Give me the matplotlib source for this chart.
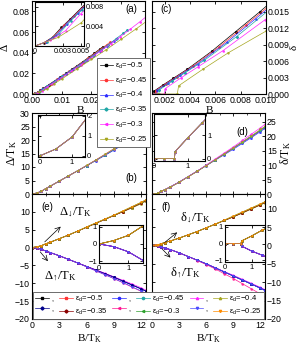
import matplotlib
matplotlib.use("Agg")
import matplotlib.pyplot as plt
from matplotlib.lines import Line2D

plt.rcParams['font.family'] = ['Liberation Sans', 'DejaVu Sans']
plt.rcParams['mathtext.fontset'] = 'stix'
plt.rcParams['xtick.direction'] = 'in'
plt.rcParams['ytick.direction'] = 'in'
plt.rcParams['axes.linewidth'] = 0.8

# ---------------- data ----------------
eps_d = [-0.5, -0.45, -0.4, -0.35, -0.3, -0.25]
t_k = [0.0019, 0.0021, 0.0023, 0.00256, 0.0033, 0.005]

# B/T_K grid for gap quantities (Delta)
bt = [0, 0.5, 1, 1.5, 2, 3, 4, 5, 6, 7, 8, 9, 10, 11, 12, 12.5]
gap_tk = [
    [0, 0.35, 0.95, 2.0, 2.9, 4.8, 6.7, 8.6, 10.5, 12.5, 14.5, 16.5, 18.6, 20.7, 22.9, 24.0],
    [0, 0.35, 0.95, 2.0, 2.9, 4.8, 6.7, 8.6, 10.5, 12.5, 14.5, 16.5, 18.6, 20.7, 22.8, 23.9],
    [0, 0.35, 0.95, 2.0, 2.9, 4.8, 6.7, 8.6, 10.5, 12.4, 14.3, 16.3, 18.3, 20.3, 22.4, 23.4],
    [0, 0.35, 0.95, 2.0, 2.9, 4.8, 6.7, 8.6, 10.5, 12.5, 14.5, 16.5, 18.6, 20.8, 23.0, 24.1],
    [0, 0.35, 0.95, 2.0, 2.9, 4.8, 6.7, 8.6, 10.6, 12.6, 14.7, 16.8, 19.0, 21.2, 23.5, 24.6],
    [0, 0.35, 0.95, 2.0, 2.9, 4.8, 6.7, 8.6, 10.6, 12.6, 14.7, 16.8, 19.0, 21.2, 23.4, 24.5],
]
gap_dn_tk = [
    [0, 0.2, 0.5, 1.05, 1.5, 2.5, 3.5, 4.6, 5.7, 6.8, 7.9, 9.0, 10.1, 11.2, 12.4, 13.1],
    [0, 0.2, 0.5, 1.05, 1.5, 2.5, 3.5, 4.6, 5.7, 6.8, 7.9, 9.0, 10.1, 11.2, 12.4, 13.1],
    [0, 0.2, 0.5, 1.05, 1.5, 2.5, 3.5, 4.6, 5.7, 6.8, 7.9, 9.0, 10.1, 11.2, 12.3, 13.0],
    [0, 0.2, 0.5, 1.05, 1.5, 2.5, 3.5, 4.6, 5.7, 6.8, 7.9, 9.0, 10.1, 11.3, 12.5, 13.2],
    [0, 0.2, 0.5, 1.05, 1.5, 2.5, 3.5, 4.6, 5.8, 6.9, 8.0, 9.1, 10.3, 11.5, 12.7, 13.4],
    [0, 0.2, 0.5, 1.05, 1.5, 2.5, 3.5, 4.6, 5.8, 6.9, 8.0, 9.1, 10.3, 11.5, 12.7, 13.4],
]
gap_up_tk = [
    [0, -0.15, -0.45, -0.95, -1.4, -2.3, -3.3, -4.3, -5.3, -6.3, -7.3, -8.3, -9.4, -10.5, -11.6, -12.2],
    [0, -0.15, -0.45, -0.95, -1.4, -2.3, -3.3, -4.3, -5.3, -6.3, -7.3, -8.3, -9.4, -10.5, -11.6, -12.2],
    [0, -0.15, -0.45, -0.95, -1.4, -2.3, -3.3, -4.3, -5.3, -6.2, -7.2, -8.2, -9.2, -10.2, -11.3, -11.9],
    [0, -0.15, -0.45, -0.95, -1.4, -2.3, -3.3, -4.3, -5.3, -6.3, -7.3, -8.3, -9.4, -10.5, -11.6, -12.2],
    [0, -0.15, -0.45, -0.95, -1.4, -2.3, -3.3, -4.3, -5.4, -6.5, -7.6, -8.7, -9.9, -11.1, -12.3, -12.9],
    [0, -0.15, -0.45, -0.95, -1.4, -2.3, -3.3, -4.3, -5.4, -6.5, -7.6, -8.7, -9.8, -11.0, -12.2, -12.8],
]

# B/T_K grid for splitting quantities (delta)
btd = [0, 0.3, 0.6, 0.62, 1.0, 1.4, 2, 3, 4, 5, 6, 7, 8, 9, 10, 11, 12, 12.5]
spl_tk = [
    [0, 0, 0, 0.3, 0.9, 1.5, 2.4, 4.1, 6.0, 7.9, 9.9, 11.9, 13.9, 15.9, 17.9, 19.9, 22.0, 23.2],
    [0, 0, 0, 0.3, 0.9, 1.5, 2.4, 4.1, 6.0, 7.9, 9.9, 11.9, 13.9, 15.9, 17.9, 19.9, 22.0, 23.2],
    [0, 0, 0, 0.3, 0.9, 1.5, 2.4, 4.1, 6.0, 7.9, 9.8, 11.7, 13.6, 15.5, 17.5, 19.5, 21.6, 22.7],
    [0, 0, 0, 0.3, 0.9, 1.5, 2.4, 4.1, 6.0, 7.9, 9.9, 11.9, 13.9, 15.9, 17.9, 20.0, 22.1, 23.2],
    [0, 0, 0, 0.3, 0.9, 1.5, 2.4, 4.1, 6.0, 7.9, 10.0, 12.1, 14.2, 16.3, 18.5, 20.7, 22.9, 24.1],
    [0, 0, 0, 0.3, 0.9, 1.5, 2.3, 4.0, 5.9, 7.8, 9.8, 11.8, 13.8, 15.9, 18.0, 20.1, 22.3, 23.4],
]
spl_dn_tk = [
    [0, 0, 0, 0.15, 0.45, 0.8, 1.2, 2.0, 2.9, 3.8, 4.8, 5.8, 6.8, 7.8, 8.9, 10.0, 11.1, 11.7],
    [0, 0, 0, 0.15, 0.45, 0.8, 1.2, 2.0, 2.9, 3.8, 4.8, 5.8, 6.8, 7.8, 8.9, 10.0, 11.1, 11.7],
    [0, 0, 0, 0.15, 0.45, 0.8, 1.2, 2.0, 2.9, 3.8, 4.8, 5.8, 6.8, 7.8, 8.8, 9.9, 11.0, 11.6],
    [0, 0, 0, 0.15, 0.45, 0.8, 1.2, 2.0, 2.9, 3.8, 4.8, 5.8, 6.8, 7.8, 8.9, 10.0, 11.1, 11.7],
    [0, 0, 0, 0.15, 0.45, 0.8, 1.2, 2.0, 2.9, 3.8, 4.8, 5.8, 6.9, 8.0, 9.1, 10.2, 11.3, 11.9],
    [0, 0, 0, 0.15, 0.45, 0.8, 1.2, 2.0, 2.9, 3.8, 4.8, 5.8, 6.9, 8.0, 9.1, 10.2, 11.3, 11.9],
]
spl_up_tk = [
    [0, 0, 0, -0.15, -0.45, -0.7, -1.1, -2.0, -3.0, -4.0, -5.0, -6.1, -7.2, -8.3, -9.4, -10.5, -11.6, -12.2],
    [0, 0, 0, -0.15, -0.45, -0.7, -1.1, -2.0, -3.0, -4.0, -5.0, -6.1, -7.2, -8.3, -9.4, -10.5, -11.6, -12.2],
    [0, 0, 0, -0.15, -0.45, -0.7, -1.1, -2.0, -3.0, -4.0, -5.0, -6.0, -7.1, -8.1, -9.2, -10.3, -11.4, -12.0],
    [0, 0, 0, -0.15, -0.45, -0.7, -1.1, -2.0, -3.0, -4.0, -5.0, -6.1, -7.2, -8.3, -9.4, -10.5, -11.6, -12.2],
    [0, 0, 0, -0.15, -0.45, -0.7, -1.1, -2.0, -3.0, -4.1, -5.2, -6.4, -7.7, -9.0, -10.4, -11.8, -13.2, -13.9],
    [0, 0, 0, -0.15, -0.45, -0.7, -1.1, -2.0, -3.0, -4.0, -5.0, -6.1, -7.2, -8.3, -9.4, -10.5, -11.7, -12.3],
]

colors_main = ['#000000', '#ff3333', '#2a2aff', '#1fa6a6', '#ff22ff', '#a6a61f']
colors_up = ['#000000', '#2a2aff', '#ff22ff', '#00008b', '#ff1493', '#4b4bff']
colors_dn = ['#ff3333', '#1fa6a6', '#a6a61f', '#8b0000', '#2ca02c', '#ff8c00']
markers = ['s', 'o', '^', 'D', '<', 'v']

# ---------------- figure ----------------
W, H = 299, 348
fig = plt.figure(figsize=(W / 100, H / 100), dpi=100)


def ax_px(x0, y0, x1, y1):
    return fig.add_axes([x0 / W, 1 - y1 / H, (x1 - x0) / W, (y1 - y0) / H])


FS = 6.3
SERIF = ['Liberation Serif', 'DejaVu Serif']
lw = 0.5
ms = 1.0


def style(ax, right=False):
    ax.tick_params(labelsize=FS, length=2.5, width=0.6, top=True, right=True, pad=1.5)
    ax.tick_params(which='minor', length=1.5, width=0.5, top=True, right=True)
    if right:
        ax.yaxis.tick_right()
        ax.yaxis.set_label_position('right')
        ax.tick_params(left=True, which='both')


ax_a = ax_px(32, 1, 145, 94)
ax_c = ax_px(152, 1, 266, 94)
ax_b = ax_px(32, 113, 146, 194)
ax_d = ax_px(152, 113, 265, 194)
ax_e = ax_px(32, 194, 146, 319)
ax_f = ax_px(152, 194, 265, 319)

# (a) Delta vs B
for i in range(6):
    B = [x * t_k[i] for x in bt]
    D = [v * t_k[i] for v in gap_tk[i]]
    ax_a.plot(B, D, '-', color=colors_main[i], lw=lw, marker=markers[i], ms=ms)
ax_a.set_xlim(0, 0.038)
ax_a.set_ylim(0, 0.09)
ax_a.set_xticks([0, 0.01, 0.02, 0.03])
ax_a.set_xticklabels(['0.00', '0.01', '0.02', '0.03'])
ax_a.set_yticks([0, 0.02, 0.04, 0.06, 0.08])
ax_a.set_yticklabels(['0.00', '0.02', '0.04', '0.06', '0.08'])
style(ax_a)
ax_a.set_xlabel('B', family=SERIF, fontsize=8, labelpad=0)
ax_a.xaxis.set_label_coords(0.43, -0.125)
ax_a.set_ylabel('Δ', family=SERIF, fontsize=8, labelpad=2)
ax_a.text(0.93, 0.91, '(a)', transform=ax_a.transAxes, fontsize=7, ha='right', va='center')

# (c) delta vs B
for i in range(6):
    B = [x * t_k[i] for x in btd]
    D = [v * t_k[i] for v in spl_tk[i]]
    ax_c.plot(B, D, '-', color=colors_main[i], lw=lw, marker=markers[i], ms=ms)
ax_c.set_xlim(0.001, 0.010)
ax_c.set_ylim(0, 0.017)
ax_c.set_xticks([0.002, 0.004, 0.006, 0.008, 0.010])
ax_c.set_xticklabels(['0.002', '0.004', '0.006', '0.008', '0.010'])
ax_c.set_yticks([0, 0.003, 0.006, 0.009, 0.012, 0.015])
ax_c.set_yticklabels(['0.000', '0.003', '0.006', '0.009', '0.012', '0.015'])
style(ax_c, right=True)
ax_c.set_xlabel('B', family=SERIF, fontsize=8, labelpad=0)
ax_c.xaxis.set_label_coords(0.5, -0.125)
ax_c.set_ylabel('δ', family=SERIF, fontsize=8, labelpad=0, rotation=90)
ax_c.text(0.07, 0.91, '(c)', transform=ax_c.transAxes, fontsize=7, ha='left', va='center')

# (b) Delta/TK vs B/TK
for i in range(6):
    ax_b.plot(bt, gap_tk[i], '-', color=colors_main[i], lw=lw, marker=markers[i], ms=ms)
ax_b.set_xlim(0, 12.5)
ax_b.set_ylim(0, 30)
ax_b.set_xticks([0, 3, 6, 9, 12])
ax_b.set_xticks([1.5, 4.5, 7.5, 10.5], minor=True)
ax_b.set_yticks([0, 5, 10, 15, 20, 25, 30])
style(ax_b)
ax_b.tick_params(labelbottom=False)
ax_b.set_ylabel('Δ/T$_\\mathregular{K}$', family=SERIF, fontsize=8.5, labelpad=1)
ax_b.text(0.92, 0.2, '(b)', transform=ax_b.transAxes, fontsize=7, ha='right', va='center')

# (d) delta/TK vs B/TK
for i in range(6):
    ax_d.plot(btd, spl_tk[i], '-', color=colors_main[i], lw=lw, marker=markers[i], ms=ms)
ax_d.set_xlim(0, 12.5)
ax_d.set_ylim(0, 28)
ax_d.set_xticks([0, 3, 6, 9, 12])
ax_d.set_xticks([1.5, 4.5, 7.5, 10.5], minor=True)
ax_d.set_yticks([0, 5, 10, 15, 20, 25])
style(ax_d, right=True)
ax_d.tick_params(labelbottom=False)
ax_d.set_ylabel('δ/T$_\\mathregular{K}$', family=SERIF, fontsize=8.5, labelpad=1)
ax_d.text(0.8, 0.77, '(d)', transform=ax_d.transAxes, fontsize=7, ha='center', va='center')

# (e) spin-resolved Delta
for i in range(6):
    ax_e.plot(bt, gap_up_tk[i], '-', color=colors_up[i], lw=lw, marker=markers[i], ms=ms)
    ax_e.plot(bt, gap_dn_tk[i], '-', color=colors_dn[i], lw=lw, marker=markers[i], ms=ms)
ax_e.set_xlim(0, 12.5)
ax_e.set_ylim(-20, 15)
ax_e.set_xticks([0, 3, 6, 9, 12])
ax_e.set_xticks([1.5, 4.5, 7.5, 10.5], minor=True)
ax_e.set_yticks([-20, -15, -10, -5, 0, 5, 10])
style(ax_e)
ax_e.set_xlabel('B/T$_\\mathregular{K}$', family=SERIF, fontsize=8, labelpad=2)
ax_e.text(0.08, 0.9, '(e)', transform=ax_e.transAxes, fontsize=7, ha='left', va='center')
ax_e.annotate('Δ$_\\mathregular{↓}$/T$_\\mathregular{K}$', xy=(1.4, 1.6), xytext=(4.8, 9.9),
              family=SERIF, fontsize=9, ha='center', va='center',
              arrowprops=dict(arrowstyle='<-', lw=0.5, color='black', shrinkA=5, shrinkB=0))
ax_e.annotate('Δ$_\\mathregular{↑}$/T$_\\mathregular{K}$', xy=(0.9, -1.2), xytext=(3.1, -8.0),
              family=SERIF, fontsize=9, ha='center', va='center',
              arrowprops=dict(arrowstyle='<-', lw=0.5, color='black', shrinkA=5, shrinkB=0))

# (f) spin-resolved delta
for i in range(6):
    ax_f.plot(btd, spl_up_tk[i], '-', color=colors_up[i], lw=lw, marker=markers[i], ms=ms)
    ax_f.plot(btd, spl_dn_tk[i], '-', color=colors_dn[i], lw=lw, marker=markers[i], ms=ms)
ax_f.set_xlim(0, 12.5)
ax_f.set_ylim(-20, 14)
ax_f.set_xticks([0, 3, 6, 9, 12])
ax_f.set_xticks([1.5, 4.5, 7.5, 10.5], minor=True)
ax_f.set_yticks([-20, -15, -10, -5, 0, 5, 10])
style(ax_f, right=True)
ax_f.set_xlabel('B/T$_\\mathregular{K}$', family=SERIF, fontsize=8, labelpad=2)
ax_f.text(0.08, 0.9, '(f)', transform=ax_f.transAxes, fontsize=7, ha='left', va='center')
ax_f.annotate('δ$_\\mathregular{↓}$/T$_\\mathregular{K}$', xy=(1.4, 0.8), xytext=(4.75, 7.5),
              family=SERIF, fontsize=9, ha='center', va='center',
              arrowprops=dict(arrowstyle='<-', lw=0.5, color='black', shrinkA=5, shrinkB=0))
ax_f.annotate('δ$_\\mathregular{↑}$/T$_\\mathregular{K}$', xy=(1.1, -0.9), xytext=(3.65, -7.4),
              family=SERIF, fontsize=9, ha='center', va='center',
              arrowprops=dict(arrowstyle='<-', lw=0.5, color='black', shrinkA=5, shrinkB=0))

# ---------------- insets ----------------
FSI = 5.5
ia = ax_px(35, 2, 84, 46)
for i in range(6):
    B = [x * t_k[i] for x in bt]
    D = [v * t_k[i] for v in gap_tk[i]]
    ia.plot(B, D, '-', color=colors_main[i], lw=lw, marker=markers[i], ms=0.8)
ia.set_xlim(0, 0.0053)
ia.set_ylim(0, 0.009)
ia.set_xticks([0, 0.003, 0.005])
ia.set_xticklabels(['0', '0.003', '0.005'])
ia.set_yticks([0, 0.004, 0.008])
ia.set_yticklabels(['0', '0.004', '0.008'])
style(ia, right=True)
ia.tick_params(labelsize=5.2)

ib = ax_px(38, 115, 85, 157)
for i in range(6):
    ib.plot(bt, gap_tk[i], '-', color=colors_main[i], lw=lw, marker=markers[i], ms=0.8)
ib.set_xlim(-0.05, 1.4)
ib.set_ylim(-0.05, 2.05)
ib.set_xticks([0, 1])
ib.set_yticks([0, 1, 2])
style(ib, right=True)
ib.tick_params(labelsize=FSI)

idd = ax_px(154, 114, 205, 161)
for i in range(6):
    idd.plot(btd, spl_tk[i], '-', color=colors_main[i], lw=lw, marker=markers[i], ms=0.8)
idd.set_xlim(0, 1.5)
idd.set_ylim(-0.1, 1.9)
idd.set_xticks([0, 1])
idd.set_yticks([0, 1])
style(idd, right=True)
idd.tick_params(labelsize=FSI)

ie = ax_px(99, 225, 143, 263)
for i in range(6):
    ie.plot(bt, gap_up_tk[i], '-', color=colors_up[i], lw=lw, marker=markers[i], ms=0.8)
    ie.plot(bt, gap_dn_tk[i], '-', color=colors_dn[i], lw=lw, marker=markers[i], ms=0.8)
ie.set_xlim(0, 1.5)
ie.set_ylim(-1.1, 1.1)
ie.set_xticks([0, 1])
ie.set_yticks([-1, 0, 1])
style(ie)
ie.tick_params(labelsize=FSI)

iff = ax_px(225, 225, 265, 262)
for i in range(6):
    iff.plot(btd, spl_up_tk[i], '-', color=colors_up[i], lw=lw, marker=markers[i], ms=0.8)
    iff.plot(btd, spl_dn_tk[i], '-', color=colors_dn[i], lw=lw, marker=markers[i], ms=0.8)
iff.set_xlim(0, 1.5)
iff.set_ylim(-1.1, 1.1)
iff.set_xticks([0, 1])
iff.set_yticks([-1, 0, 1])
style(iff)
iff.tick_params(labelsize=FSI)

# ---------------- legends ----------------
h_main = [Line2D([], [], color=colors_main[i], lw=lw, marker=markers[i], ms=1.6) for i in range(6)]
l_main = ['ε$_\\mathregular{d}$=−%g' % abs(e) for e in eps_d]
leg1 = fig.legend(h_main, l_main, loc='upper left', bbox_to_anchor=(97 / W, 1 - 58 / H),
                  borderaxespad=0, fontsize=5.5, frameon=True, fancybox=False,
                  edgecolor='#555555', handlelength=1.7, labelspacing=0.6,
                  borderpad=0.35, handletextpad=0.3, framealpha=1)
leg1.get_frame().set_linewidth(0.6)

rows = [[], []]
for i in range(6):
    r = 0 if i < 3 else 1
    rows[r].append((Line2D([], [], color=colors_up[i], lw=lw, marker=markers[i], ms=1.6), ','))
    rows[r].append((Line2D([], [], color=colors_dn[i], lw=lw, marker=markers[i], ms=1.6),
                    'ε$_\\mathregular{d}$=−%g' % abs(eps_d[i])))
handles2, labels2 = [], []
for c in range(6):
    for r in range(2):
        handles2.append(rows[r][c][0])
        labels2.append(rows[r][c][1])
leg2 = fig.legend(handles2, labels2, loc='lower left', bbox_to_anchor=(33 / W, 1 - 319 / H),
                  borderaxespad=0, ncol=6, fontsize=5.5, frameon=True, fancybox=False,
                  edgecolor='#555555', handlelength=1.8, labelspacing=0.3, borderpad=0.3,
                  handletextpad=0.3, columnspacing=0.7, framealpha=1)
leg2.get_frame().set_linewidth(0.6)

fig.savefig('out.png', dpi=100)
